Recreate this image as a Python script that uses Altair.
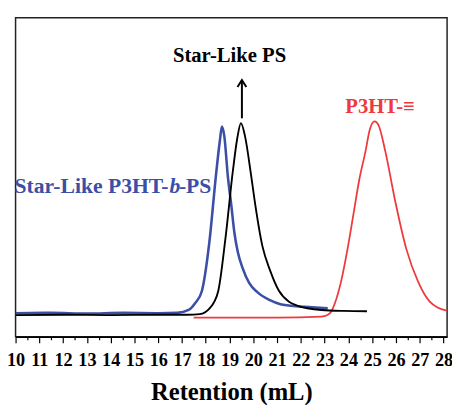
import altair as alt
import pandas as pd

# Star-Like P3HT-b-PS (blue)
blue_x = [10, 11.5, 13, 14.5, 16, 16.8, 17.28, 17.55, 17.83, 18.15, 18.42, 18.59, 18.68,
          18.78, 18.93, 19.07, 19.21, 19.35, 19.55, 19.83, 20.17, 20.72, 21.14, 21.48, 22.17, 23.13]
blue_y = [7.4, 7.5, 7.3, 7.5, 7.4, 7.5, 8.4, 10.5, 14.2, 29.6, 50.0, 61.3, 65.9,
          62.9, 50.2, 41.5, 32.3, 26.5, 21.5, 16.8, 14.0, 11.4, 10.2, 9.8, 9.4, 8.9]

# Star-Like PS (black)
black_x = [10, 12, 14, 16, 17.2, 17.75, 18.16, 18.52, 18.83, 19.14, 19.32, 19.48, 19.65,
           19.90, 20.05, 20.38, 20.72, 21.07, 21.5, 21.84, 22.87, 23.8, 24.78]
black_y = [6.8, 6.9, 6.8, 6.9, 6.9, 7.1, 8.9, 14.2, 31.0, 52.0, 62.0, 67.0, 62.9,
           51.0, 43.0, 28.5, 20.5, 14.5, 11.0, 9.8, 8.4, 8.1, 8.0]

# P3HT-≡ (red)
red_x = [17.49, 19, 21, 22.86, 23.12, 23.28, 23.43, 23.69, 23.96, 24.24, 24.45, 24.72,
         24.90, 25.10, 25.27, 25.55, 25.96, 26.44, 26.93, 27.41, 27.75, 28.13]
red_y = [6.0, 6.0, 6.0, 6.3, 6.8, 7.9, 10.5, 17.3, 27.4, 39.7, 49.0, 58.2,
         65.0, 67.5, 66.3, 58.2, 42.8, 27.4, 17.3, 11.1, 9.2, 8.2]

major_ticks = list(range(10, 29))
minor_ticks = [t + 0.5 for t in range(10, 28)]

BLUE = "#3b4fa6"
RED = "#ee3a3f"
BLACK = "#000000"
FONT = "Times New Roman, Liberation Serif, DejaVu Serif, serif"

xscale = alt.Scale(domain=[10, 28.15], nice=False, zero=False)
yscale = alt.Scale(domain=[0, 100], nice=False, zero=False)

x_axis = alt.Axis(
    values=sorted(major_ticks + minor_ticks),
    labelExpr="datum.value % 1 === 0 ? format(datum.value, 'd') : ''",
    tickSize={"condition": {"test": "datum.value % 1 === 0", "value": 6}, "value": 3},
    labelOverlap=False,
    labelFlush=False,
    labelFont=FONT, labelFontSize=18.5, labelFontWeight="bold", labelColor="black",
    labelPadding=8,
    title="Retention (mL)", titleFont=FONT, titleFontSize=25, titleFontWeight="bold",
    titleColor="black", titlePadding=11,
    domainColor="black", domainWidth=1.5, tickColor="black", tickWidth=1.2,
    grid=False,
)

X = alt.X("x:Q", scale=xscale, axis=x_axis)


def Y(field):
    return alt.Y(field, scale=yscale, axis=None)


def line(xs, ys, color, width):
    d = pd.DataFrame({"x": xs, "y": ys})
    return alt.Chart(d).mark_line(color=color, strokeWidth=width, interpolate="monotone", clip=True).encode(
        x=X, y=Y("y:Q"),
    )


def label(x, y, text, color, align="center", style="normal", size=21):
    d = pd.DataFrame({"x": [x], "y": [y], "t": [text]})
    return alt.Chart(d).mark_text(
        font=FONT, fontSize=size, fontWeight="bold", fontStyle=style, color=color,
        align=align, baseline="alphabetic",
    ).encode(x=X, y=Y("y:Q"), text="t:N")


arrow_df = pd.DataFrame({"x": [19.52], "y": [68.5], "y2": [80.5]})
arrow_shaft = alt.Chart(arrow_df).mark_rule(color=BLACK, strokeWidth=2).encode(
    x=X, y=Y("y:Q"), y2="y2:Q"
)
arrow_head = alt.Chart(arrow_df).mark_point(
    shape="M-1,1.6L0,0L1,1.6", size=81, filled=False, color=BLACK, strokeWidth=2, opacity=1
).encode(x=X, y=Y("y2:Q"))

chart = alt.layer(
    line(red_x, red_y, RED, 1.8),
    line(blue_x, blue_y, BLUE, 2.6),
    line(black_x, black_y, BLACK, 1.9),
    arrow_shaft,
    arrow_head,
    label(19.0, 86.0, "Star-Like PS", BLACK),
    label(25.33, 70.0, "P3HT-≡", RED),
    label(16.43, 45.0, "Star-Like P3HT-", BLUE, align="right", size=22),
    label(16.47, 45.0, "b", BLUE, align="left", style="italic", size=22),
    label(16.87, 45.0, "-PS", BLUE, align="left", size=22),
).properties(
    width=439, height=324.5,
    autosize=alt.AutoSizeParams(type="none"),
    padding={"left": 7.7, "top": 6.5, "right": 5, "bottom": 70},
).configure_view(stroke="#222222", strokeWidth=1.5)

chart.save("out.html", embed_options={"renderer": "svg", "actions": False})
